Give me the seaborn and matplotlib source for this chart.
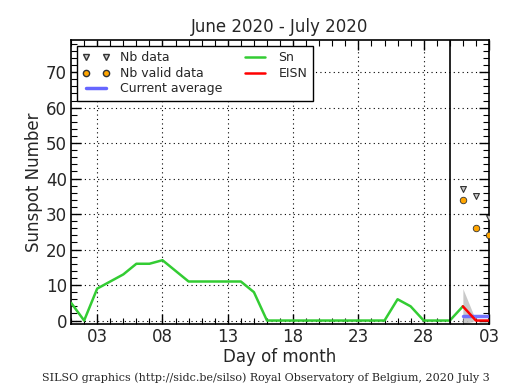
import matplotlib
matplotlib.use("Agg")
import matplotlib.pyplot as plt
import seaborn as sns
import pandas as pd
import numpy as np
from matplotlib.ticker import MultipleLocator, FixedLocator
from matplotlib.lines import Line2D

# ---- data ----
sn_days = list(range(1, 32))
sn_values = [5, 0, 9, 11, 13, 16, 16, 17, 14, 11, 11, 11, 11, 11, 8, 0, 0, 0, 0, 0,
             0, 0, 0, 0, 0, 6, 4, 0, 0, 0, 4]
eisn_days = [31, 32, 33]
eisn_values = [4, 0, 0]
band_days = [31, 32]
band_low = [-1, 0]
band_high = [9, 0]
avg_days = [31, 33]
avg_values = [1.3, 1.3]
nb_days = [31, 32, 33]
nb_data = [37, 35, 29]
nb_valid = [34, 26, 24]
tick_pos = [3, 8, 13, 18, 23, 28, 33]
tick_labels = ["03", "08", "13", "18", "23", "28", "03"]
month_split = 30

sns.set_style("ticks")
plt.rcParams['font.family'] = ['DejaVu Sans']

fig = plt.figure(figsize=(5.15, 3.9), dpi=100)
ax = fig.add_axes([0.138, 0.169, 0.8115, 0.728])

df_sn = pd.DataFrame({"day": sn_days, "val": sn_values})
df_eisn = pd.DataFrame({"day": eisn_days, "val": eisn_values})
df_avg = pd.DataFrame({"day": avg_days, "val": avg_values})
df_nb = pd.DataFrame({"day": nb_days, "nb": nb_data, "valid": nb_valid})

ax.fill_between(band_days, band_low, band_high, color="#c4c4c4", alpha=0.9, lw=0, zorder=2)
sns.lineplot(data=df_sn, x="day", y="val", ax=ax, color="#33cc33", lw=1.8, zorder=3)
sns.lineplot(data=df_avg, x="day", y="val", ax=ax, color="#6666ff", lw=2.5, alpha=0.9, zorder=4)
sns.lineplot(data=df_eisn, x="day", y="val", ax=ax, color="red", lw=1.8, zorder=5)
sns.scatterplot(data=df_nb, x="day", y="nb", ax=ax, marker="v", s=18, color="#cccccc",
                edgecolor="#333333", linewidth=0.8, zorder=6)
sns.scatterplot(data=df_nb, x="day", y="valid", ax=ax, marker="o", s=22, color="orange",
                edgecolor="#333333", linewidth=0.6, zorder=6)
ax.axvline(month_split, color="black", lw=1.2, zorder=7)

ax.set_xlim(1, 33)
ax.set_ylim(-1, 79)
ax.xaxis.set_major_locator(FixedLocator(tick_pos))
ax.set_xticklabels(tick_labels)
ax.xaxis.set_minor_locator(MultipleLocator(1))
ax.yaxis.set_major_locator(MultipleLocator(10))
ax.yaxis.set_minor_locator(MultipleLocator(2))
ax.tick_params(which="both", direction="in", top=True, right=True, labelsize=12, color="black")
ax.tick_params(which="major", length=7, width=1, pad=3)
ax.tick_params(which="minor", length=4, width=0.8)
ax.grid(True, which="major", color="black", linestyle=(0, (1, 3)), linewidth=0.8)
for s in ax.spines.values():
    s.set_color("black")
    s.set_linewidth(1.2)

ax.set_title("June 2020 - July 2020", fontsize=12)
ax.set_xlabel("Day of month", fontsize=12, labelpad=1)
ax.set_ylabel("Sunspot Number", fontsize=12, labelpad=2)

handles = [
    Line2D([], [], marker="v", ls="none", color="#cccccc", markeredgecolor="#333333", markersize=4.5),
    Line2D([], [], marker="o", ls="none", color="orange", markeredgecolor="#333333", markersize=4.5),
    Line2D([], [], color="#6666ff", lw=2.5),
    Line2D([], [], color="#33cc33", lw=1.8),
    Line2D([], [], color="red", lw=1.8),
]
labels = ["Nb data", "Nb valid data", "Current average", "Sn", "EISN"]
leg = ax.legend(handles, labels, loc="upper left", ncol=2, numpoints=2, fontsize=9,
                frameon=True, fancybox=False, framealpha=1, edgecolor="black",
                borderpad=0.45, labelspacing=0.2, columnspacing=1.5, handlelength=2.2,
                borderaxespad=0.45)
leg.get_frame().set_linewidth(1.0)

fig.text(0.517, 0.018, "SILSO graphics (http://sidc.be/silso) Royal Observatory of Belgium, 2020 July 3",
         ha="center", va="bottom", fontsize=8, family="DejaVu Serif")

fig.savefig("out.png", dpi=100)
